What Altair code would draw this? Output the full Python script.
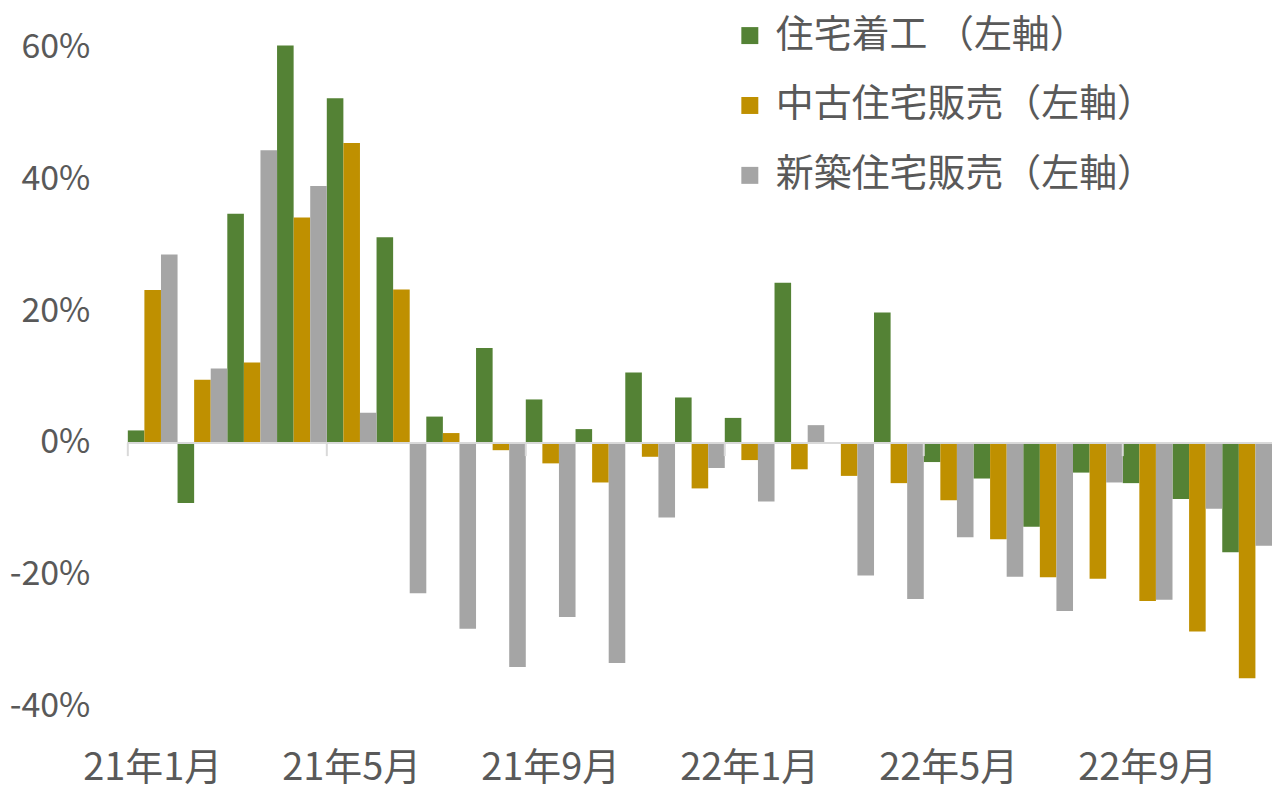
import altair as alt
import pandas as pd

months = ["21年1月", "21年2月", "21年3月", "21年4月", "21年5月", "21年6月",
          "21年7月", "21年8月", "21年9月", "21年10月", "21年11月", "21年12月",
          "22年1月", "22年2月", "22年3月", "22年4月", "22年5月", "22年6月",
          "22年7月", "22年8月", "22年9月", "22年10月", "22年11月"]

series_names = ["住宅着工 （左軸）", "中古住宅販売（左軸）", "新築住宅販売（左軸）"]
series_colors = ["#548235", "#BF9000", "#A5A5A5"]

housing_starts = [1.9, -9.1, 34.8, 60.3, 52.3, 31.2, 4.0, 14.4, 6.6, 2.1, 10.7, 6.9,
                  3.8, 24.3, 0.0, 19.8, -2.9, -5.4, -12.7, -4.5, -6.1, -8.5, -16.6]
existing_sales = [23.2, 9.6, 12.2, 34.2, 45.5, 23.3, 1.5, -1.1, -3.1, -6.0, -2.1, -6.9,
                  -2.6, -4.0, -5.0, -6.1, -8.7, -14.6, -20.4, -20.6, -24.0, -28.6, -35.7]
new_sales = [28.6, 11.3, 44.4, 39.0, 4.6, -22.8, -28.2, -34.0, -26.4, -33.4, -11.3, -3.8,
             -8.9, 2.7, -20.1, -23.7, -14.3, -20.3, -25.5, -6.0, -23.8, -10.0, -15.6]

y_ticks = [-40, -20, 0, 20, 40, 60]
label_months = months[::4]

rows = []
for name, vals in zip(series_names, [housing_starts, existing_sales, new_sales]):
    for m, v in zip(months, vals):
        rows.append({"month": m, "series": name, "value": v})
df = pd.DataFrame(rows)
tick_df = pd.DataFrame({"month": label_months})

FONT = "Noto Sans CJK JP"
TXT = "#595959"

x_scale = alt.Scale(domain=months, paddingInner=0, paddingOuter=0)
y_scale = alt.Scale(domain=[-40, 60], nice=False, zero=False)

bars = alt.Chart(df).mark_bar().encode(
    x=alt.X("month:N", scale=x_scale,
            axis=alt.Axis(values=label_months, labelAngle=0, domain=False, ticks=False,
                          labelPadding=43, labelFontSize=38, labelColor=TXT,
                          labelFont=FONT, title=None)),
    xOffset=alt.XOffset("series:N", scale=alt.Scale(domain=series_names, paddingInner=0, paddingOuter=0)),
    y=alt.Y("value:Q", scale=y_scale,
            axis=alt.Axis(values=y_ticks, labelExpr="datum.value + '%'", grid=False,
                          domain=False, ticks=False, labelPadding=38, labelFontSize=34,
                          labelColor=TXT, labelFont=FONT, title=None,
                          minExtent=120, maxExtent=120)),
    color=alt.Color("series:N",
                    scale=alt.Scale(domain=series_names, range=series_colors),
                    legend=alt.Legend(title=None, orient="none", legendX=604, legendY=-31,
                                      symbolType="square", symbolSize=289,
                                      symbolStrokeWidth=0, labelFontSize=38,
                                      labelColor=TXT, labelFont=FONT, labelOffset=7,
                                      rowPadding=32, padding=0, labelLimit=600)),
)

zero_line = alt.Chart(df).mark_rule(color="#D9D9D9", strokeWidth=2).encode(
    y=alt.datum(0)
)

ticks = alt.Chart(tick_df).mark_rule(color="#D9D9D9", strokeWidth=2).encode(
    x=alt.X("month:N", scale=x_scale, bandPosition=0),
    y=alt.datum(0),
    y2=alt.datum(-2),
)

chart = alt.layer(bars, zero_line, ticks).properties(
    width=1146,
    height=660,
    autosize=alt.AutoSizeParams(type="none"),
    padding={"left": 120, "top": 39, "right": 0, "bottom": 100},
).configure(font=FONT, view=alt.ViewConfig(strokeWidth=0))

chart.save("out.html", embed_options={"renderer": "svg", "actions": False})
